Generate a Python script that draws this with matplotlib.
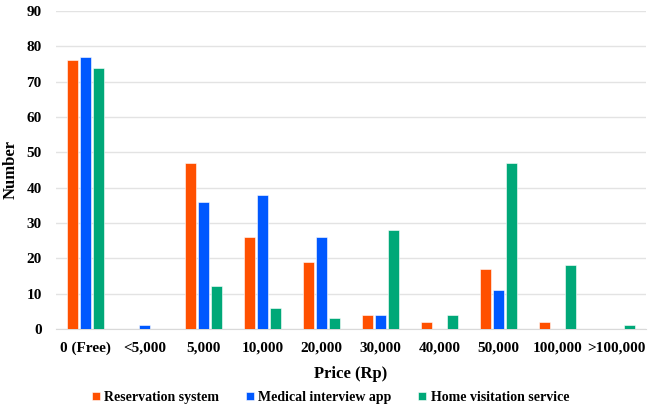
import numpy as np
import matplotlib.pyplot as plt

plt.rcParams['font.family'] = ['Liberation Serif', 'DejaVu Serif']
plt.rcParams['font.weight'] = 'bold'

categories = ['0 (Free)', '<5,000', '5,000', '10,000', '20,000', '30,000',
              '40,000', '50,000', '100,000', '>100,000']
reservation = [76, 0, 47, 26, 19, 4, 2, 17, 2, 0]
interview = [77, 1, 36, 38, 26, 4, 0, 11, 0, 0]
visitation = [74, 0, 12, 6, 3, 28, 4, 47, 18, 1]

series = [('Reservation system', reservation, '#ff5000'),
          ('Medical interview app', interview, '#0058ff'),
          ('Home visitation service', visitation, '#00a878')]

fig = plt.figure(figsize=(6.48, 4.09), dpi=100)
ax = fig.add_axes([0.086, 0.196, 0.911, 0.777])

x = np.arange(len(categories))
w = 0.19
for i, (name, vals, col) in enumerate(series):
    ax.bar(x + (i - 1) * 0.22, vals, w, color=col, label=name, zorder=3,
           edgecolor='white', linewidth=0.4)

ax.set_xlim(-0.5, len(categories) - 0.5)
ax.set_ylim(0, 90)
ax.set_yticks(range(0, 91, 10))
ax.set_xticks(x)
ax.set_xticklabels(categories)
ax.tick_params(length=0, labelsize=11, pad=9)
ax.tick_params(axis='y', pad=10)
ax.grid(axis='y', color='#e3e3e3', linewidth=1, zorder=0)
for s in ['top', 'right', 'left']:
    ax.spines[s].set_visible(False)
ax.spines['bottom'].set_color('#d9d9d9')
ax.set_xlabel('Price (Rp)', fontsize=12, fontweight='bold', labelpad=8)
ax.set_ylabel('Number', fontsize=12, fontweight='bold')
ax.yaxis.set_label_coords(-0.062, 0.5)

fig.legend(loc='lower center', bbox_to_anchor=(0.51, -0.008), ncol=3,
           frameon=False, fontsize=10, handlelength=0.6, handleheight=0.6,
           columnspacing=1.9, handletextpad=0.3, borderpad=0.1)

fig.savefig('out.png', dpi=100)
